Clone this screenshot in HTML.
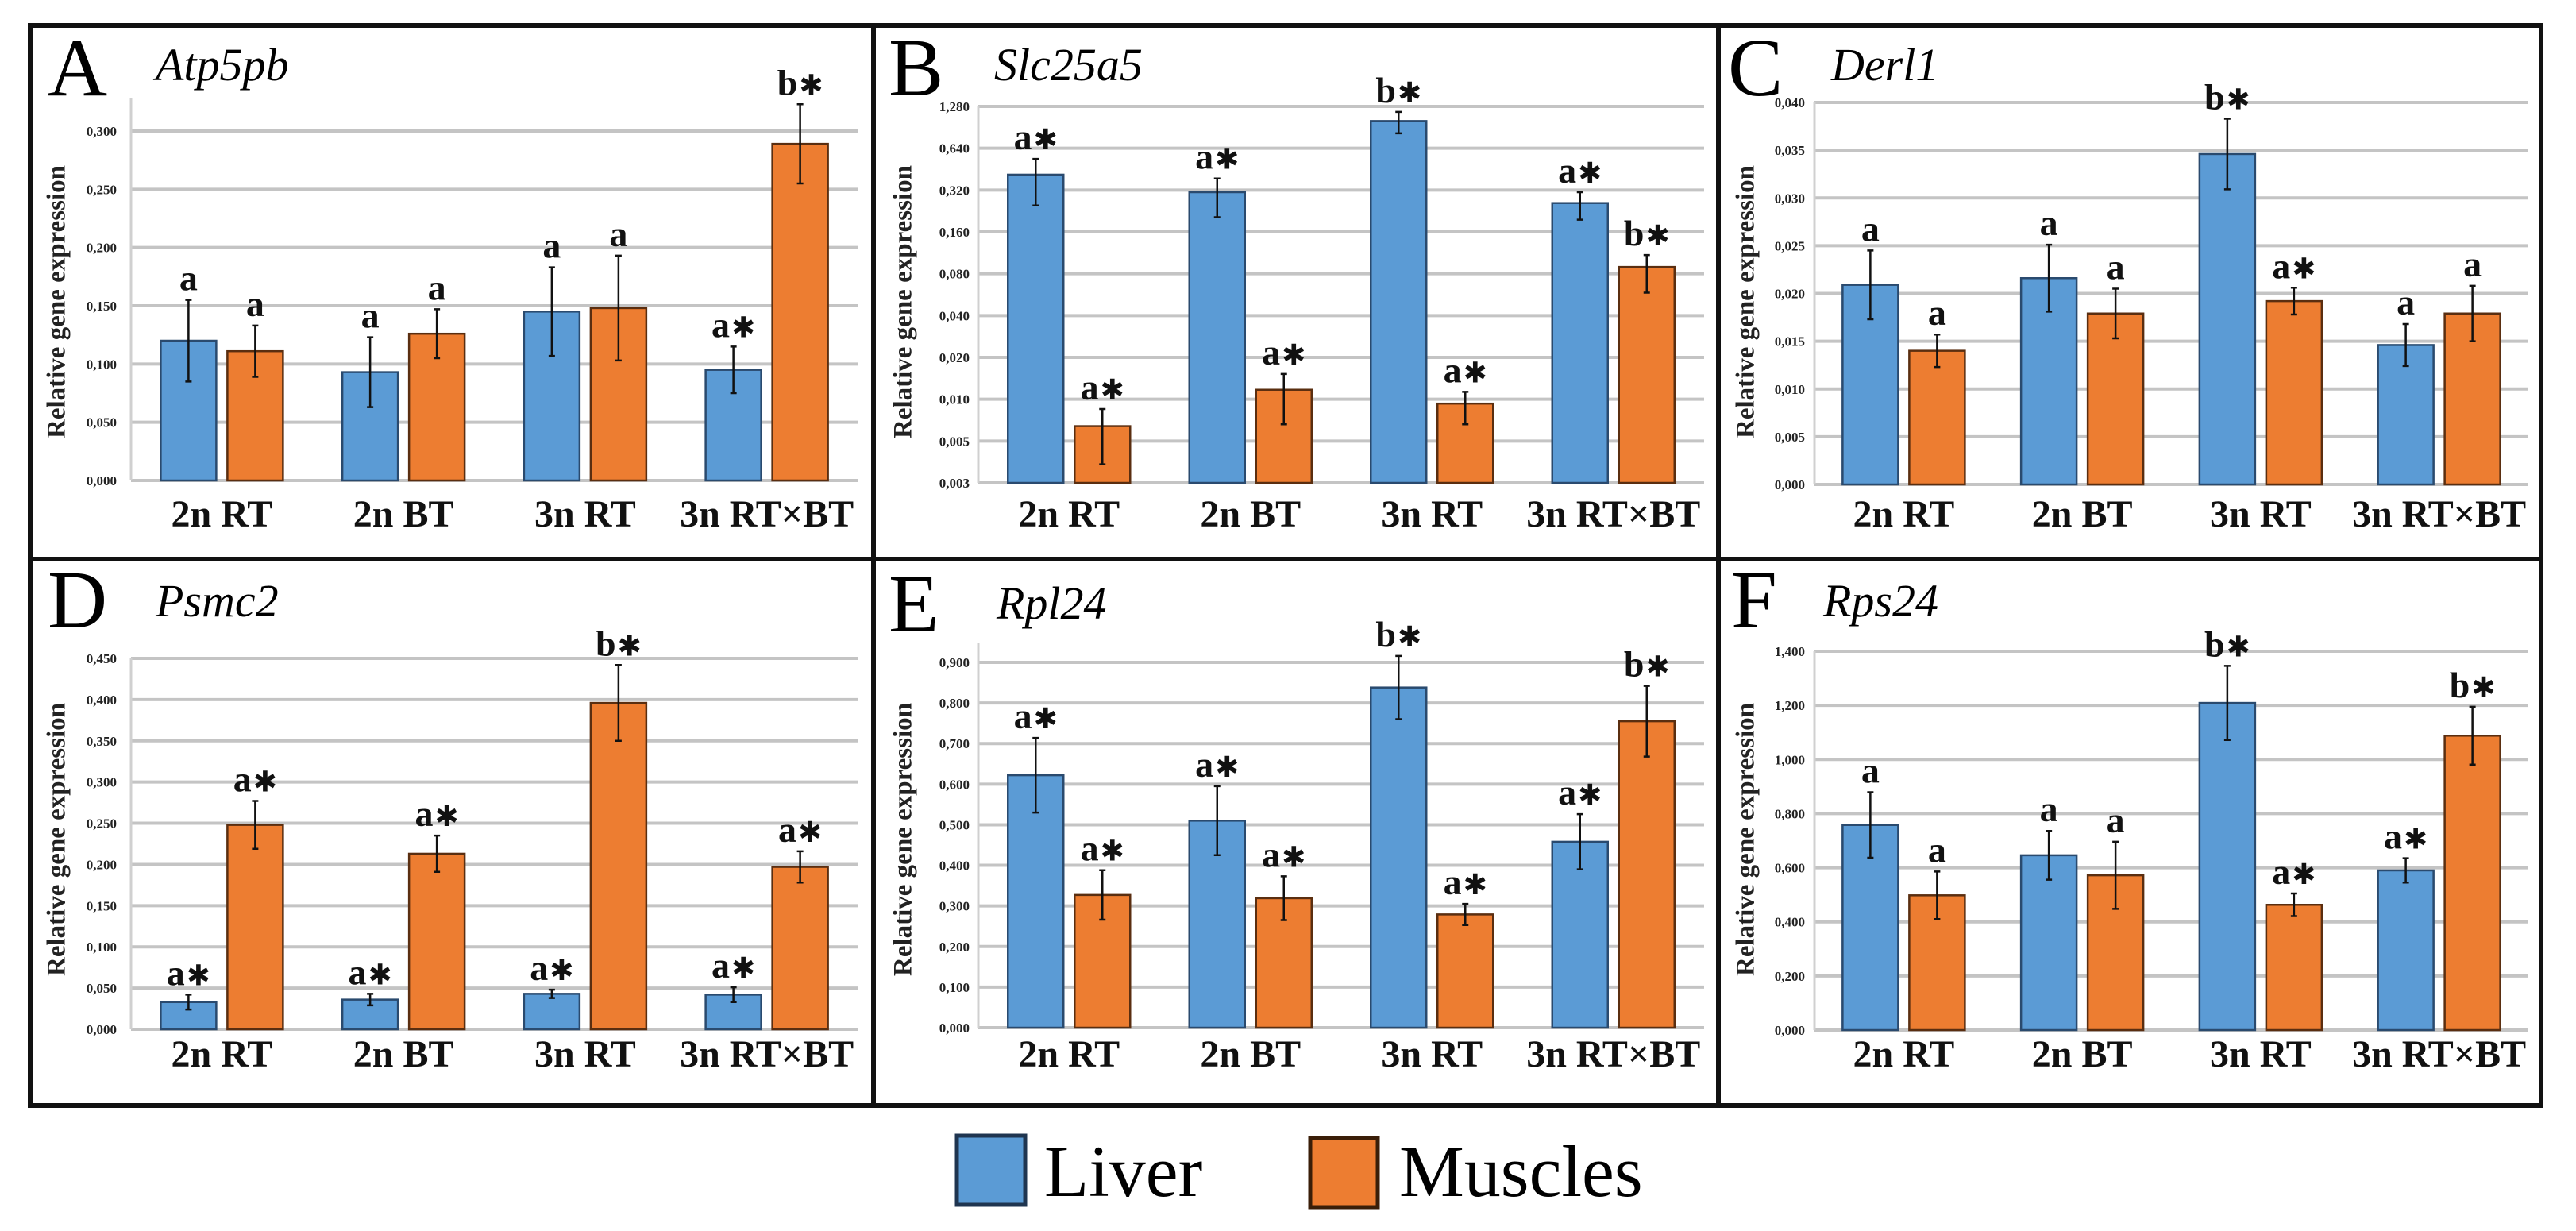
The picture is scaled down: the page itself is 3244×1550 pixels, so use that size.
<!DOCTYPE html>
<html><head><meta charset="utf-8"><style>
html,body{margin:0;padding:0;background:#fff;}
svg{display:block;}
svg text{font-family:"Liberation Serif","Times New Roman","DejaVu Serif",serif;}
svg tspan.ast{font-family:"DejaVu Sans",sans-serif;}
</style></head><body>
<svg id="fig" xmlns="http://www.w3.org/2000/svg" width="3244" height="1550" viewBox="0 0 3244 1550">
<rect x="0" y="0" width="3244" height="1550" fill="#fff"/>
<g id="frames" stroke="#111" stroke-width="6" fill="none">
<rect x="38" y="32" width="3162" height="1360"/>
<line x1="1100" y1="32" x2="1100" y2="1392"/>
<line x1="2164" y1="32" x2="2164" y2="1392"/>
<line x1="38" y1="704" x2="3200" y2="704"/>
</g>
<g id="legend" font-size="92">
<g>
<rect x="1205" y="1430" width="86" height="87" fill="#5b9bd5" stroke="#1f3550" stroke-width="5"/>
<text x="1315" y="1506">Liver</text></g>
<g>
<rect x="1650" y="1433" width="85" height="87" fill="#ed7d31" stroke="#3a1e08" stroke-width="5"/>
<text x="1762" y="1506">Muscles</text></g>
</g>
</svg>
<script>
const categories = ["2n RT", "2n BT", "3n RT", "3n RT\u00d7BT"];

// Panel A - Atp5pb
const aLiver = [0.120, 0.093, 0.145, 0.095];
const aLiverErr = [0.035, 0.030, 0.038, 0.020];
const aMuscle = [0.111, 0.126, 0.148, 0.289];
const aMuscleErr = [0.022, 0.021, 0.045, 0.034];
const aLiverSig = ["a", "a", "a", "a*"];
const aMuscleSig = ["a", "a", "a", "b*"];
const aTicks = ["0,000","0,050","0,100","0,150","0,200","0,250","0,300"];

// Panel B - Slc25a5 (log2 axis)
const bLiver = [0.413, 0.309, 1.005, 0.258];
const bLiverHi = [0.536, 0.388, 1.17, 0.309];
const bLiverLo = [0.248, 0.204, 0.82, 0.196];
const bMuscle = [0.0064, 0.0117, 0.0093, 0.0895];
const bMuscleHi = [0.0085, 0.0152, 0.0113, 0.109];
const bMuscleLo = [0.0034, 0.0066, 0.0066, 0.0585];
const bLiverSig = ["a*", "a*", "b*", "a*"];
const bMuscleSig = ["a*", "a*", "a*", "b*"];
const bTicks = ["0,003","0,005","0,010","0,020","0,040","0,080","0,160","0,320","0,640","1,280"];

// Panel C - Derl1
const cLiver = [0.0209, 0.0216, 0.0346, 0.0146];
const cLiverErr = [0.0036, 0.0035, 0.0037, 0.0022];
const cMuscle = [0.0140, 0.0179, 0.0192, 0.0179];
const cMuscleErr = [0.0017, 0.0026, 0.0014, 0.0029];
const cLiverSig = ["a", "a", "b*", "a"];
const cMuscleSig = ["a", "a", "a*", "a"];
const cTicks = ["0,000","0,005","0,010","0,015","0,020","0,025","0,030","0,035","0,040"];

// Panel D - Psmc2
const dLiver = [0.033, 0.036, 0.043, 0.042];
const dLiverErr = [0.009, 0.007, 0.005, 0.009];
const dMuscle = [0.248, 0.213, 0.396, 0.197];
const dMuscleErr = [0.029, 0.022, 0.046, 0.019];
const dLiverSig = ["a*", "a*", "a*", "a*"];
const dMuscleSig = ["a*", "a*", "b*", "a*"];
const dTicks = ["0,000","0,050","0,100","0,150","0,200","0,250","0,300","0,350","0,400","0,450"];

// Panel E - Rpl24
const eLiver = [0.622, 0.510, 0.838, 0.458];
const eLiverErr = [0.092, 0.085, 0.078, 0.068];
const eMuscle = [0.327, 0.319, 0.279, 0.755];
const eMuscleErr = [0.061, 0.054, 0.026, 0.087];
const eLiverSig = ["a*", "a*", "b*", "a*"];
const eMuscleSig = ["a*", "a*", "a*", "b*"];
const eTicks = ["0,000","0,100","0,200","0,300","0,400","0,500","0,600","0,700","0,800","0,900"];

// Panel F - Rps24
const fLiver = [0.758, 0.646, 1.209, 0.590];
const fLiverErr = [0.121, 0.090, 0.137, 0.045];
const fMuscle = [0.498, 0.572, 0.463, 1.088];
const fMuscleErr = [0.088, 0.124, 0.042, 0.107];
const fLiverSig = ["a", "a", "b*", "a*"];
const fMuscleSig = ["a", "a", "a*", "b*"];
const fTicks = ["0,000","0,200","0,400","0,600","0,800","1,000","1,200","1,400"];

const NS = "http://www.w3.org/2000/svg";
const svg = document.getElementById("fig");
function mk(tag, attrs, parent) {
  const e = document.createElementNS(NS, tag);
  for (const k in attrs) e.setAttribute(k, attrs[k]);
  (parent || svg).appendChild(e);
  return e;
}
function sym(vals, errs, sign) { return vals.map((v, i) => v + sign * errs[i]); }

const panels = [
  {id:"a", letter:"A", gene:"Atp5pb", x0:165, x1:1080, yTop:165, yBot:605, axisTop:124, lx:60, ly:120, gx:196, gy:101, tx:147, ylx:74, yly:380, catY:663, log:false, max:0.3,
   liver:aLiver, lHi:sym(aLiver,aLiverErr,1), lLo:sym(aLiver,aLiverErr,-1), muscle:aMuscle, mHi:sym(aMuscle,aMuscleErr,1), mLo:sym(aMuscle,aMuscleErr,-1), lSig:aLiverSig, mSig:aMuscleSig, ticks:aTicks},
  {id:"b", letter:"B", gene:"Slc25a5", x0:1232, x1:2146, yTop:134, yBot:608, axisTop:134, lx:1119, ly:120, gx:1252, gy:101, tx:1221, ylx:1140, yly:380, catY:663, log:true, min:0.0025, max:1.28,
   liver:bLiver, lHi:bLiverHi, lLo:bLiverLo, muscle:bMuscle, mHi:bMuscleHi, mLo:bMuscleLo, lSig:bLiverSig, mSig:bMuscleSig, ticks:bTicks},
  {id:"c", letter:"C", gene:"Derl1", x0:2285, x1:3184, yTop:129, yBot:610, axisTop:129, lx:2176, ly:120, gx:2306, gy:101, tx:2273, ylx:2201, yly:380, catY:663, log:false, max:0.04,
   liver:cLiver, lHi:sym(cLiver,cLiverErr,1), lLo:sym(cLiver,cLiverErr,-1), muscle:cMuscle, mHi:sym(cMuscle,cMuscleErr,1), mLo:sym(cMuscle,cMuscleErr,-1), lSig:cLiverSig, mSig:cMuscleSig, ticks:cTicks},
  {id:"d", letter:"D", gene:"Psmc2", x0:165, x1:1080, yTop:829, yBot:1296, axisTop:829, lx:60, ly:790, gx:196, gy:776, tx:147, ylx:74, yly:1057, catY:1343, log:false, max:0.45,
   liver:dLiver, lHi:sym(dLiver,dLiverErr,1), lLo:sym(dLiver,dLiverErr,-1), muscle:dMuscle, mHi:sym(dMuscle,dMuscleErr,1), mLo:sym(dMuscle,dMuscleErr,-1), lSig:dLiverSig, mSig:dMuscleSig, ticks:dTicks},
  {id:"e", letter:"E", gene:"Rpl24", x0:1232, x1:2146, yTop:834, yBot:1294, axisTop:810, lx:1119, ly:795, gx:1255, gy:779, tx:1221, ylx:1140, yly:1057, catY:1343, log:false, max:0.9,
   liver:eLiver, lHi:sym(eLiver,eLiverErr,1), lLo:sym(eLiver,eLiverErr,-1), muscle:eMuscle, mHi:sym(eMuscle,eMuscleErr,1), mLo:sym(eMuscle,eMuscleErr,-1), lSig:eLiverSig, mSig:eMuscleSig, ticks:eTicks},
  {id:"f", letter:"F", gene:"Rps24", x0:2285, x1:3184, yTop:820, yBot:1297, axisTop:820, lx:2180, ly:790, gx:2296, gy:776, tx:2273, ylx:2201, yly:1057, catY:1343, log:false, max:1.4,
   liver:fLiver, lHi:sym(fLiver,fLiverErr,1), lLo:sym(fLiver,fLiverErr,-1), muscle:fMuscle, mHi:sym(fMuscle,fMuscleErr,1), mLo:sym(fMuscle,fMuscleErr,-1), lSig:fLiverSig, mSig:fMuscleSig, ticks:fTicks}
];

panels.forEach(p => {
  const g = mk("g", {});
  
  
  const yScale = v => {
    if (p.log) {
      const t = Math.log2(Math.max(v, p.min) / p.min) / Math.log2(p.max / p.min);
      return p.yBot - t * (p.yBot - p.yTop);
    }
    return p.yBot - v / p.max * (p.yBot - p.yTop);
  };
  const gw = (p.x1 - p.x0) / categories.length;
  const xc = i => p.x0 + gw * (i + 0.5);

  const n = p.ticks.length - 1;
  p.ticks.forEach((t, i) => {
    const y = p.yBot - i / n * (p.yBot - p.yTop);
    const gl = mk("line", {x1:p.x0, x2:p.x1, y1:y, y2:y, stroke:"#c4c4c4", "stroke-width":4}, g);
    
    
    const tl = mk("text", {x:p.tx, y:y + 6, "text-anchor":"end", "font-weight":"bold", "font-size":17, fill:"#222"}, g);
    tl.textContent = t;
    
    
  });
  const ax = mk("line", {x1:p.x0, x2:p.x0, y1:p.axisTop, y2:p.yBot, stroke:"#d0d0d0", "stroke-width":3}, g);
  
  

  const yt = mk("text", {x:p.ylx, y:p.yly, transform:`rotate(-90 ${p.ylx} ${p.yly})`, "text-anchor":"middle", "dominant-baseline":"middle", "font-weight":"bold", "font-size":33, fill:"#222"}, g);
  yt.textContent = "Relative gene expression";
  
  

  const lt = mk("text", {x:p.lx, y:p.ly, "font-size":104, fill:"#000"}, g);
  lt.textContent = p.letter;
  
  
  const gt = mk("text", {x:p.gx, y:p.gy, "font-style":"italic", "font-size":58, fill:"#000"}, g);
  gt.textContent = p.gene;
  
  

  const series = [
    {vals:p.liver, hi:p.lHi, lo:p.lLo, sig:p.lSig, fill:"#5b9bd5", stroke:"#2a4a6e", off:-77, name:"liver"},
    {vals:p.muscle, hi:p.mHi, lo:p.mLo, sig:p.mSig, fill:"#ed7d31", stroke:"#5a2e10", off:7, name:"muscles"}
  ];
  series.forEach(s => {
    s.vals.forEach((v, i) => {
      const x = xc(i) + s.off;
      const y = yScale(v);
      const r = mk("rect", {x:x, y:y, width:70, height:p.yBot - y, fill:s.fill, stroke:s.stroke, "stroke-width":2.5}, g);
      
      
      const cx = x + 35;
      const yh = yScale(s.hi[i]), yl = yScale(s.lo[i]);
      const eb = mk("path", {d:`M${cx} ${yh}V${yl}M${cx-4} ${yh}H${cx+4}M${cx-4} ${yl}H${cx+4}`, stroke:"#111", "stroke-width":2.5, fill:"none"}, g);
      
      
      const lab = s.sig[i];
      const txt = mk("text", {x:cx, y:yh - 12, "text-anchor":"middle", "font-weight":"bold", "font-size":46, fill:"#111"}, g);
      const base = lab.replace("*", "");
      txt.appendChild(document.createTextNode(base));
      if (lab.indexOf("*") >= 0) {
        const ts = mk("tspan", {"class":"ast", "font-size":36, dx:2}, txt);
        ts.textContent = "\u2731";
      }
      
      
    });
  });

  categories.forEach((c, i) => {
    const ct = mk("text", {x:xc(i), y:p.catY, "text-anchor":"middle", "font-weight":"bold", "font-size":48, fill:"#111"}, g);
    ct.textContent = c;
    
    
  });
});
</script>
</body></html>
